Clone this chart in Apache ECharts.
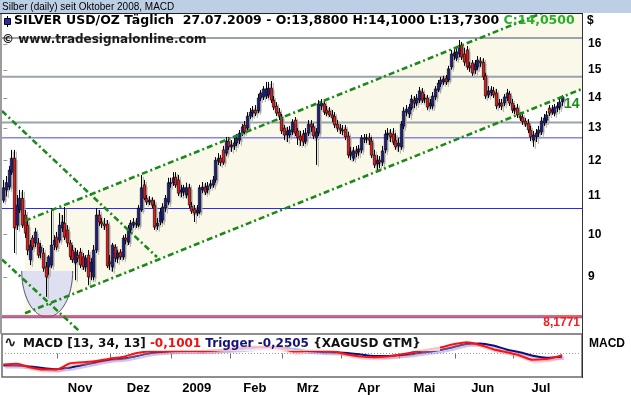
<!DOCTYPE html>
<html><head><meta charset="utf-8">
<script src="https://cdn.jsdelivr.net/npm/echarts@6/dist/echarts.min.js"></script>
<style>html,body{margin:0;padding:0;background:#fff}#c{width:631px;height:395px}</style>
</head><body><div id="c"></div>
<script>
// ---------- data ----------
const startDate = '2008-10-03';
const endDate = '2009-07-27';
const padBars = 7;
const opens = [10.88,11.16,11.24,11.66,12.07,10.23,10.62,10.93,10.49,10.23,
9.39,9.91,9.79,9.79,9.57,9.55,9.23,9.23,9.27,9.74,
9.93,9.86,10.16,10.28,10.11,9.79,9.62,9.32,9.50,9.57,
9.46,9.23,9.50,9.12,9.00,9.62,10.49,10.31,10.26,10.26,
9.34,9.23,9.69,9.43,9.57,9.46,9.91,9.81,10.11,10.23,
10.28,10.23,10.62,11.30,10.93,10.83,10.88,10.75,10.21,10.31,
10.36,10.67,10.83,11.33,11.36,11.52,11.44,11.10,11.10,11.02,
11.22,10.72,10.65,10.54,10.57,11.16,11.24,11.16,11.27,11.30,
11.44,11.98,12.07,12.32,12.22,12.59,12.41,12.44,12.53,12.62,
12.84,13.10,13.00,13.39,13.49,13.59,13.56,14.00,14.04,14.07,
14.11,14.35,13.93,13.73,13.52,13.36,13.00,12.78,12.78,12.88,
13.26,12.91,12.75,12.81,12.59,12.84,13.13,13.04,12.69,12.84,
13.73,13.80,13.59,13.56,13.43,13.39,13.13,13.00,12.94,12.97,
12.75,12.16,12.07,12.29,12.26,12.32,12.69,12.65,12.69,12.59,
12.16,11.90,12.01,11.95,12.32,12.78,12.84,12.81,12.62,12.44,
12.41,13.07,13.52,13.46,13.66,13.93,13.83,13.93,14.21,13.97,
14.00,13.73,13.73,14.04,14.28,14.50,14.57,14.71,14.64,15.12,
15.53,15.45,15.61,15.96,15.61,15.77,15.16,15.27,15.01,15.12,
15.34,15.30,14.79,14.11,14.18,14.25,14.18,13.76,13.83,13.83,
14.00,14.14,13.83,13.59,13.66,13.39,13.36,13.23,13.16,12.94,
12.62,12.72,12.84,12.88,13.16,13.26,13.66,13.52,13.49,13.66,
13.69,13.88];
const closes = [11.22,11.36,11.72,12.07,10.16,10.75,10.93,10.23,10.03,9.62,
9.74,9.69,10.06,9.50,9.69,9.20,9.00,9.46,9.74,9.86,
9.69,10.23,10.31,9.93,9.79,9.46,9.39,9.57,9.43,9.27,
9.23,9.43,9.00,9.34,9.62,10.49,10.31,10.26,10.21,9.25,
9.30,9.74,9.43,9.55,9.46,9.91,9.86,10.16,10.28,10.31,
10.26,10.67,11.22,10.93,10.83,10.88,10.75,10.18,10.28,10.57,
10.70,10.93,11.36,11.36,11.50,11.30,11.07,11.16,11.22,11.22,
10.75,10.59,10.54,10.62,11.22,11.24,11.10,11.27,11.33,11.44,
12.01,12.07,11.95,11.95,12.59,12.41,12.47,12.53,12.69,12.84,
13.04,12.88,13.39,13.52,13.59,13.49,14.00,14.18,14.32,14.32,
14.35,13.93,13.69,13.49,13.39,12.91,12.78,12.91,12.94,13.20,
12.84,12.69,12.62,12.56,12.84,13.13,13.04,12.75,12.88,13.80,
13.83,13.52,13.49,13.43,13.33,13.10,13.00,12.94,12.91,12.72,
12.16,12.26,12.29,12.22,12.35,12.69,12.65,12.69,12.62,12.16,
11.87,12.01,11.95,12.29,12.81,12.84,12.72,12.56,12.41,12.53,
13.13,13.56,13.62,13.69,13.97,13.83,14.00,14.25,13.93,14.00,
13.69,13.83,14.07,14.32,14.53,14.64,14.68,14.57,15.05,15.61,
15.65,15.69,15.89,15.49,15.30,15.12,15.09,14.90,15.23,15.38,
15.27,14.75,14.07,14.25,14.28,14.11,13.73,13.83,13.73,14.04,
14.18,13.83,13.59,13.66,13.43,13.33,13.20,13.13,12.94,12.72,
12.78,12.84,12.94,13.23,13.33,13.43,13.49,13.62,13.69,13.73,
13.86,14.05];
const highs = [11.44,11.55,11.84,12.32,12.32,11.02,11.16,11.16,10.62,10.36,
9.86,9.98,10.16,9.91,9.79,9.67,9.34,9.50,10.67,9.98,
10.06,10.54,10.49,10.70,10.23,9.86,9.74,9.67,9.62,9.67,
9.55,9.50,9.62,9.43,9.74,10.67,10.62,10.41,10.41,10.36,
9.50,9.79,9.76,9.62,9.64,9.98,10.01,10.23,10.36,10.41,
10.41,10.75,11.58,11.44,11.02,10.99,10.96,10.88,10.41,10.67,
10.80,11.02,11.50,11.50,11.66,11.66,11.58,11.30,11.30,11.36,
11.33,10.83,10.75,10.75,11.30,11.38,11.36,11.38,11.44,11.55,
12.10,12.22,12.16,12.44,12.72,12.72,12.62,12.69,12.81,12.94,
13.13,13.23,13.52,13.66,13.73,13.76,14.14,14.28,14.42,14.57,
14.57,14.60,14.07,13.86,13.66,13.46,13.10,13.04,13.07,13.29,
13.36,13.00,12.91,12.94,13.00,13.26,13.26,13.16,13.00,13.93,
13.97,13.93,13.73,13.69,13.59,13.52,13.26,13.13,13.10,13.10,
12.88,12.41,12.41,12.44,12.47,12.78,12.81,12.81,12.84,12.72,
12.32,12.16,12.13,12.44,12.94,13.00,12.97,13.00,12.84,12.69,
13.23,13.69,13.76,13.80,14.11,14.07,14.14,14.39,14.35,14.14,
14.11,13.97,14.21,14.42,14.64,14.75,14.79,14.82,15.16,15.77,
15.85,15.92,16.16,16.08,15.85,15.92,15.30,15.38,15.38,15.53,
15.49,15.45,14.90,14.42,14.42,14.39,14.32,13.97,13.97,14.14,
14.32,14.25,13.97,13.76,13.80,13.52,13.49,13.33,13.29,13.07,
12.91,12.97,13.07,13.36,13.46,13.56,13.76,13.76,13.80,13.86,
13.97,14.10];
const lows = [10.81,10.99,11.16,11.58,9.55,10.11,10.54,10.16,9.91,9.50,
9.27,9.62,9.69,9.43,9.43,9.12,8.57,9.05,9.20,9.62,
9.62,9.79,10.06,9.86,9.69,9.39,9.32,8.93,9.34,9.20,
9.16,9.12,8.82,8.93,8.93,9.55,10.21,10.16,10.11,9.20,
9.16,9.12,9.34,9.32,9.39,9.39,9.76,9.74,10.03,10.16,
10.16,10.18,10.57,10.88,10.75,10.75,10.67,10.11,10.11,10.23,
10.28,10.57,10.75,11.22,11.27,11.22,10.99,10.96,10.99,10.93,
10.67,10.52,10.31,10.46,10.52,11.07,11.02,11.07,11.19,11.22,
11.36,11.87,11.84,11.87,12.13,12.32,12.26,12.32,12.44,12.50,
12.75,12.81,12.94,13.29,13.36,13.39,13.49,13.90,13.93,13.97,
14.00,13.83,13.59,13.39,13.26,12.81,12.62,12.56,12.69,12.78,
12.75,12.47,12.44,12.44,12.50,12.75,12.88,12.65,11.87,12.75,
13.59,13.43,13.39,13.36,13.20,13.00,12.88,12.81,12.78,12.62,
12.07,12.01,11.98,12.10,12.13,12.22,12.53,12.53,12.47,12.07,
11.78,11.72,11.78,11.84,12.22,12.62,12.56,12.47,12.32,12.26,
12.32,12.97,13.39,13.33,13.59,13.66,13.73,13.83,13.83,13.83,
13.59,13.62,13.62,13.93,14.21,14.39,14.46,14.46,14.57,15.01,
15.38,15.34,15.49,15.38,15.16,15.01,14.94,14.79,14.86,15.01,
15.12,14.64,13.97,14.00,14.07,14.00,13.62,13.66,13.59,13.73,
13.90,13.73,13.49,13.46,13.33,13.23,13.10,13.04,12.84,12.59,
12.41,12.56,12.72,12.78,13.07,13.16,13.39,13.43,13.39,13.52,
13.59,13.73];
const macdIdx = [0,5,10,15,20,25,30,35,40,45,50,55,60,65,70,75,80,85,90,95,100,105,110,115,120,125,130,135,140,145,150,155,160,165,170,175,180,185,190,195,200,205,210,211];
const macdLine = [-0.73,-0.69,-0.92,-1.07,-1.07,-0.67,-0.59,-0.50,-0.35,-0.23,0.01,0.13,0.13,0.17,0.17,0.15,0.20,0.30,0.41,0.45,0.47,0.33,0.13,0.18,0.19,0.13,-0.07,-0.21,-0.25,-0.20,-0.07,0.10,0.25,0.40,0.61,0.75,0.57,0.28,0.08,-0.13,-0.42,-0.37,-0.17,-0.1001];
const triggerLine = [-0.81,-0.80,-0.87,-0.97,-1.05,-0.95,-0.77,-0.60,-0.43,-0.35,-0.19,0.00,0.10,0.15,0.17,0.17,0.20,0.25,0.30,0.37,0.41,0.40,0.30,0.17,0.10,0.07,0.03,-0.07,-0.17,-0.17,-0.12,-0.03,0.10,0.23,0.43,0.63,0.67,0.53,0.27,0.08,-0.15,-0.29,-0.23,-0.2505];
const priceTicks = [9,10,11,12,13,14,15,16];
const monthTickDates = ['2008-11-03','2008-12-01','2009-01-01','2009-02-02','2009-03-02','2009-04-01','2009-05-01','2009-06-01','2009-07-01'];
const monthLabels = ['Nov','Dez','2009','Feb','Mrz','Apr','Mai','Jun','Jul'];
const monthLabelDates = ['2008-11-13','2008-12-15','2009-01-14','2009-02-13','2009-03-13','2009-04-15','2009-05-14','2009-06-15','2009-07-15'];
const grayLevels = [16.24, 14.76, 13.18];
const blueLevels = [12.69, 10.66, 8.145];
const redLevel = 8.1771;
// trend lines: [bar index, price]
const channelLower = [[8.2, 8.23], [218.5, 14.32]];
const channelUpper = [[8.2, 10.34], [218.5, 17.97]];
const fallLine1 = [[-0.5, 13.56], [58.0, 9.456]];
const fallLine2 = [[-0.5, 9.40], [29.0, 7.86]];
const bowlBox = [6.94, 26.2, 9.135, 8.154]; // left idx, right idx, top price, bottom price
const priceRange = [7.858, 17.23];
const macdRange = [-1.57, 1.3];

// ---------- build ----------
const dates = [];
(function(){
  let d = new Date(startDate + 'T00:00:00Z');
  const e = new Date(endDate + 'T00:00:00Z');
  while (d <= e) {
    const w = d.getUTCDay();
    if (w > 0 && w < 6) dates.push(d.toISOString().slice(0, 10));
    d.setUTCDate(d.getUTCDate() + 1);
  }
})();
const N = dates.length;
const X_MIN = -0.5, X_MAX = N + padBars - 0.5;
const LN = Math.log;
const monthStartIdx = monthTickDates.map(d => dates.indexOf(d));
const labelIdx = monthLabelDates.map(d => dates.indexOf(d));

const candleData = dates.map((d, i) => [i, LN(opens[i]), LN(closes[i]), LN(lows[i]), LN(highs[i])]);

function candleRender(shadow) {
  return function (params, api) {
    const i = api.value(0);
    const o = api.coord([i, api.value(1)]);
    const c = api.coord([i, api.value(2)]);
    const l = api.coord([i, api.value(3)]);
    const h = api.coord([i, api.value(4)]);
    const up = api.value(2) >= api.value(1);
    const x = Math.round(o[0]) + 0.5;
    const bw = 2.4;
    const top = Math.min(o[1], c[1]);
    const bh = Math.max(Math.abs(o[1] - c[1]), 1);
    if (shadow) {
      const s = 1.8;
      return { type: 'group', children: [
        { type: 'line', shape: { x1: x + s, y1: h[1] + s, x2: x + s, y2: l[1] + s }, style: { stroke: '#a9a9a9', lineWidth: 1 } },
        { type: 'rect', shape: { x: x - bw / 2 + s, y: top + s, width: bw, height: bh }, style: { fill: '#a9a9a9' } }
      ]};
    }
    return { type: 'group', children: [
      { type: 'line', shape: { x1: x, y1: h[1], x2: x, y2: l[1] }, style: { stroke: '#000', lineWidth: 1 } },
      { type: 'rect', shape: { x: x - bw / 2, y: top, width: bw, height: bh }, style: { fill: up ? '#1c1c86' : '#e81818', stroke: '#000', lineWidth: 0.6 } }
    ]};
  };
}

function clipPoly(pts, r) {
  const edges = [
    p => p[0] >= r.x, p => p[0] <= r.x + r.width, p => p[1] >= r.y, p => p[1] <= r.y + r.height
  ];
  const inter = [
    (a, b) => { const t = (r.x - a[0]) / (b[0] - a[0]); return [r.x, a[1] + t * (b[1] - a[1])]; },
    (a, b) => { const X = r.x + r.width; const t = (X - a[0]) / (b[0] - a[0]); return [X, a[1] + t * (b[1] - a[1])]; },
    (a, b) => { const t = (r.y - a[1]) / (b[1] - a[1]); return [a[0] + t * (b[0] - a[0]), r.y]; },
    (a, b) => { const Y = r.y + r.height; const t = (Y - a[1]) / (b[1] - a[1]); return [a[0] + t * (b[0] - a[0]), Y]; }
  ];
  let out = pts;
  for (let k = 0; k < 4; k++) {
    const inp = out; out = [];
    for (let j = 0; j < inp.length; j++) {
      const cur = inp[j], prev = inp[(j + inp.length - 1) % inp.length];
      const ci = edges[k](cur), pi = edges[k](prev);
      if (ci) { if (!pi) out.push(inter[k](prev, cur)); out.push(cur); }
      else if (pi) out.push(inter[k](prev, cur));
    }
  }
  return out;
}

function channelRender(params, api) {
  const cs = params.coordSys;
  const pts = [
    api.coord([channelLower[0][0], LN(channelLower[0][1])]),
    api.coord([channelLower[1][0], LN(channelLower[1][1])]),
    api.coord([channelUpper[1][0], LN(channelUpper[1][1])]),
    api.coord([channelUpper[0][0], LN(channelUpper[0][1])])
  ];
  return { type: 'polygon', shape: { points: clipPoly(pts, cs) }, style: { fill: '#f9f8e9' } };
}

function bowlRender(params, api) {
  const a = api.coord([bowlBox[0], LN(bowlBox[2])]);
  const b = api.coord([bowlBox[1], LN(bowlBox[2])]);
  const m = api.coord([(bowlBox[0] + bowlBox[1]) / 2, LN(bowlBox[3])]);
  const cx = (a[0] + b[0]) / 2, rx = (b[0] - a[0]) / 2, ry = m[1] - a[1];
  const pts = [];
  for (let k = 0; k <= 40; k++) {
    const t = Math.PI * k / 40;
    pts.push([cx + rx * Math.cos(t), a[1] + ry * Math.sin(t)]);
  }
  return { type: 'group', children: [
    { type: 'polygon', shape: { points: pts }, style: { fill: '#dedff0' } },
    { type: 'polyline', shape: { points: pts }, style: { stroke: '#55556a', lineWidth: 1, fill: null } }
  ]};
}

const hLine = (p, color, width, z) => ({
  type: 'line', xAxisIndex: 0, yAxisIndex: 0, data: [[X_MIN, LN(p)], [X_MAX, LN(p)]],
  symbol: 'none', silent: true, lineStyle: { color: color, width: width }, z: z
});
const trend = (pts) => ({
  type: 'line', xAxisIndex: 0, yAxisIndex: 0, data: pts.map(p => [p[0], LN(p[1])]),
  symbol: 'none', silent: true, z: 8,
  lineStyle: { color: '#1b8a1b', width: 2.6, type: [6, 3, 2, 3] }
});

const series = [
  { type: 'custom', xAxisIndex: 0, yAxisIndex: 0, data: [[0]], renderItem: channelRender, silent: true, z: 1 },
  { type: 'custom', xAxisIndex: 0, yAxisIndex: 0, data: [[0]], renderItem: bowlRender, silent: true, z: 2 },
  ...grayLevels.map(p => hLine(p, '#9aa3ab', 2, 3)),
  hLine(blueLevels[0], '#8585f0', 1.5, 3),
  hLine(blueLevels[1], '#2b2bf0', 1.2, 3),
  hLine(blueLevels[2], '#7070c8', 1.5, 3),
  hLine(redLevel, '#f03030', 1.5, 3),
  { type: 'custom', xAxisIndex: 0, yAxisIndex: 0, data: candleData, encode: { x: 0, y: [1, 2, 3, 4] }, renderItem: candleRender(true), silent: true, z: 4 },
  { type: 'custom', xAxisIndex: 0, yAxisIndex: 0, data: candleData, encode: { x: 0, y: [1, 2, 3, 4] }, renderItem: candleRender(false), silent: true, z: 5 },
  trend(channelLower), trend(channelUpper), trend(fallLine1), trend(fallLine2),
  { type: 'line', xAxisIndex: 1, yAxisIndex: 1, data: [[X_MIN, 0], [X_MAX, 0]], symbol: 'none', silent: true,
    lineStyle: { color: '#9a9a9a', width: 1, type: [1, 2] }, z: 3 },
  { type: 'line', xAxisIndex: 1, yAxisIndex: 1, data: macdIdx.map((i, k) => [i, triggerLine[k]]), symbol: 'none', smooth: 0.3, silent: true,
    lineStyle: { color: '#10107a', width: 2, shadowColor: 'rgba(130,130,230,0.45)', shadowOffsetX: 2, shadowOffsetY: 2 }, z: 5 },
  { type: 'line', xAxisIndex: 1, yAxisIndex: 1, data: macdIdx.map((i, k) => [i, macdLine[k]]), symbol: 'none', smooth: 0.3, silent: true,
    lineStyle: { color: '#ff1010', width: 2, shadowColor: 'rgba(255,140,140,0.45)', shadowOffsetX: 2, shadowOffsetY: 2 }, z: 6 }
];

const BOLD = 'bold 12px "DejaVu Sans"';
const graphic = [
  { type: 'rect', shape: { x: 0, y: 0, width: 631, height: 13 }, style: { fill: '#bccfe4' }, z: 100 },
  { type: 'text', x: 2, y: 7, style: { text: 'Silber (daily) seit Oktober 2008, MACD', font: '10px "Liberation Sans"', fill: '#000', verticalAlign: 'middle' }, z: 101 },
  { type: 'line', shape: { x1: 0, y1: 13.5, x2: 583, y2: 13.5 }, style: { stroke: '#222', lineWidth: 1 }, z: 101 },
  { type: 'line', shape: { x1: 582.5, y1: 13.5, x2: 582.5, y2: 378 }, style: { stroke: '#333', lineWidth: 1 }, z: 101 },
  { type: 'rect', shape: { x: 0, y: 14, width: 2, height: 320 }, style: { fill: '#9c9c9c' }, z: 101 },
  { type: 'line', shape: { x1: 7.5, y1: 16, x2: 7.5, y2: 27 }, style: { stroke: '#000', lineWidth: 1 }, z: 101 },
  { type: 'rect', shape: { x: 4.5, y: 18.5, width: 6, height: 6 }, style: { fill: '#2a2aa8', stroke: '#000', lineWidth: 1 }, z: 102 },
  { type: 'text', x: 14, y: 21, style: { text: 'SILVER USD/OZ Täglich  27.07.2009 - O:13,8800 H:14,1000 L:13,7300 {g|C:14,0500}', font: 'bold 12.5px "DejaVu Sans"', fill: '#000', verticalAlign: 'middle',
      rich: { g: { fill: '#27b027', font: 'bold 12.5px "DejaVu Sans"' } } }, z: 102 },
  { type: 'text', x: 2, y: 40, style: { text: '© www.tradesignalonline.com', font: BOLD, fill: '#1a1a1a', verticalAlign: 'middle' }, z: 102 },
  { type: 'text', x: 587, y: 21, style: { text: '$', font: 'bold 12px "Liberation Sans"', fill: '#000', verticalAlign: 'middle' }, z: 102 },
  { type: 'text', x: 564, y: 104, style: { text: '14', font: 'bold 14px "Liberation Sans"', fill: '#1b8a1b', verticalAlign: 'middle' }, z: 102 },
  { type: 'text', x: 580, y: 323, style: { text: '8,1771', font: 'bold 12px "Liberation Sans"', fill: '#f02020', align: 'right', verticalAlign: 'middle' }, z: 102 },
  { type: 'rect', shape: { x: 3, y: 336, width: 437, height: 15 }, style: { fill: 'rgba(255,255,255,0.72)' }, z: 100 },
  { type: 'text', x: 4, y: 343.5, style: { text: '∿', font: 'bold 15px "DejaVu Sans"', fill: '#222', verticalAlign: 'middle' }, z: 102 },
  { type: 'text', x: 23, y: 343.5, style: { text: 'MACD [13, 34, 13] {r|-0,1001}{n| Trigger -0,2505} {XAGUSD GTM}', font: BOLD, fill: '#111', verticalAlign: 'middle',
      rich: { r: { fill: '#f01010', font: BOLD }, n: { fill: '#14147a', font: BOLD } } }, z: 102 },
  { type: 'text', x: 589, y: 343.5, style: { text: 'MACD', font: 'bold 12px "Liberation Sans"', fill: '#000', verticalAlign: 'middle' }, z: 102 }
];

const option = {
  animation: false,
  backgroundColor: '#ffffff',
  grid: [
    { left: 2, top: 14, width: 580, height: 318, show: false },
    { left: 2, top: 334, width: 580, height: 43, show: true, borderColor: '#6a6a6a', borderWidth: 1.5, backgroundColor: 'transparent' }
  ],
  xAxis: [
    { type: 'value', gridIndex: 0, min: X_MIN, max: X_MAX, show: false },
    { type: 'value', gridIndex: 1, min: X_MIN, max: X_MAX, position: 'bottom',
      axisLine: { show: false },
      axisTick: { show: true, customValues: monthStartIdx.map(i => i - 0.5), length: 5, lineStyle: { color: '#707070', width: 1 } },
      axisLabel: { show: true, customValues: labelIdx, formatter: v => monthLabels[labelIdx.indexOf(Math.round(v))] || '',
        fontWeight: 'bold', fontSize: 13, fontFamily: 'Liberation Sans', color: '#000', margin: 5 },
      splitLine: { show: false } }
  ],
  yAxis: [
    { type: 'value', gridIndex: 0, position: 'right', min: LN(priceRange[0]), max: LN(priceRange[1]),
      axisLine: { show: false },
      axisTick: { show: true, customValues: priceTicks.map(LN), length: 4, lineStyle: { color: '#9a9a9a' } },
      axisLabel: { show: true, customValues: priceTicks.map(LN), formatter: v => String(Math.round(Math.exp(v))),
        fontWeight: 'bold', fontSize: 12, fontFamily: 'Liberation Sans', color: '#000', margin: 6 },
      splitLine: { show: false } },
    { type: 'value', gridIndex: 1, min: macdRange[0], max: macdRange[1], show: false }
  ],
  series: series,
  graphic: graphic
};

const chart = echarts.init(document.getElementById('c'), null, { renderer: 'canvas', width: 631, height: 395 });
chart.setOption(option);
</script>
</body></html>
